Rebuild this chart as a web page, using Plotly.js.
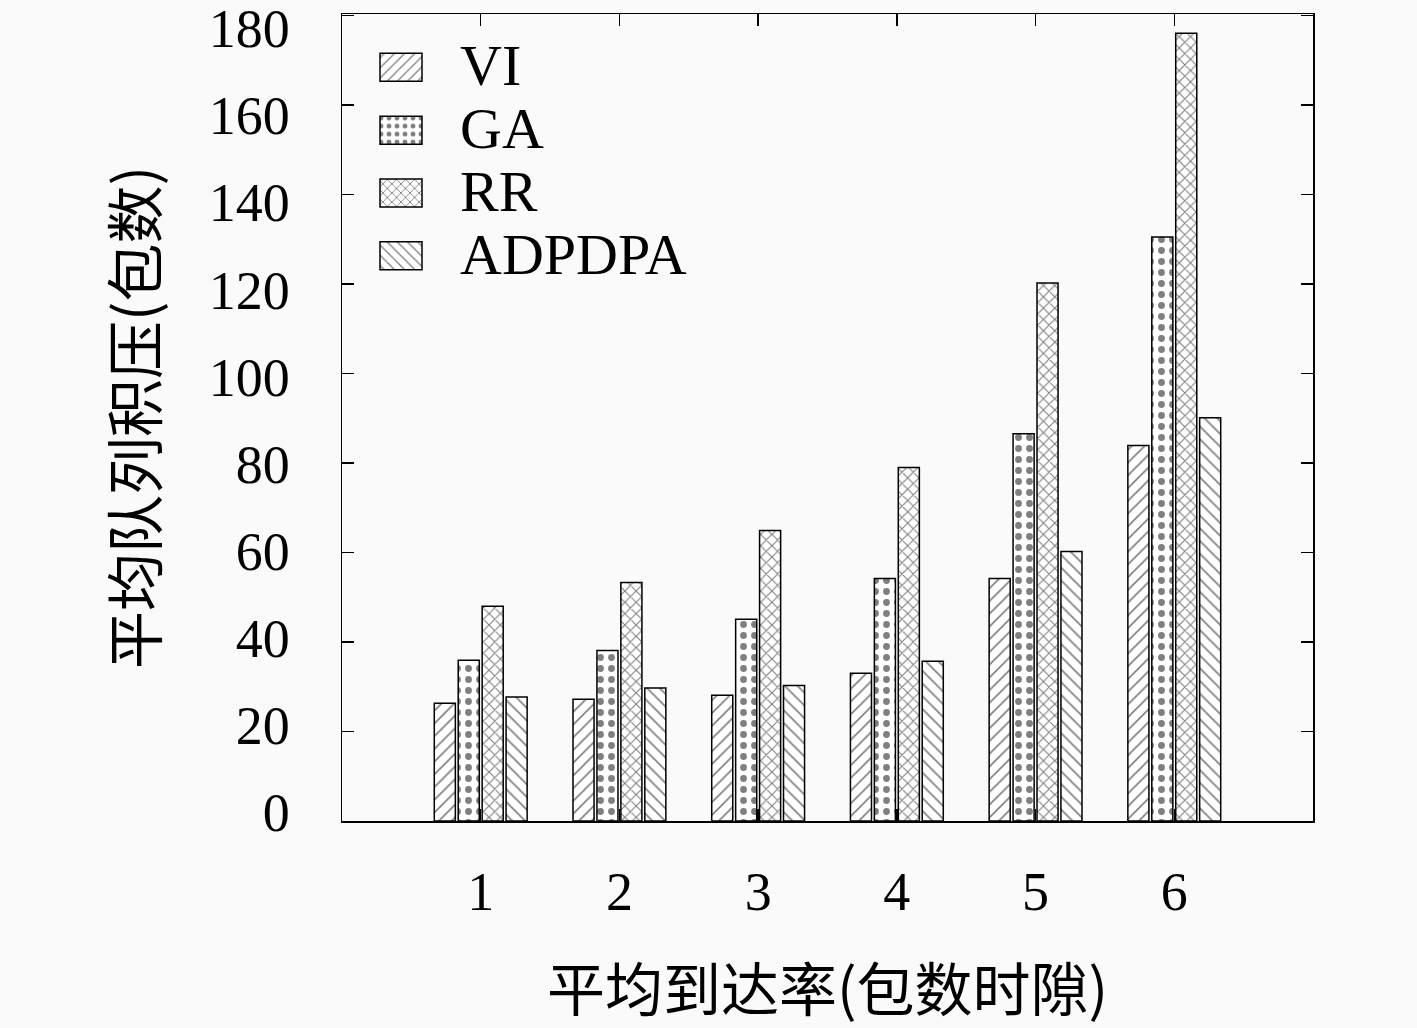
<!DOCTYPE html>
<html>
<head>
<meta charset="utf-8">
<script src="https://cdn.plot.ly/plotly-3.0.1.min.js"></script>
<style>
  html, body { margin: 0; padding: 0; background: #fafafa; }
  #chart { width: 1417px; height: 1028px; }
</style>
</head>
<body>
<div id="chart"></div>
<script>
/* global Plotly */
const CATEGORIES = [1, 2, 3, 4, 5, 6];
const SERIES_NAMES = ['VI', 'GA', 'RR', 'ADPDPA'];
const VI = [26.3, 27.2, 28.1, 33.0, 54.2, 83.9];
const GA = [35.9, 38.1, 45.1, 54.2, 86.5, 130.5];
const RR = [48.0, 53.3, 64.9, 79.0, 120.2, 176.0];
const ADPDPA = [27.7, 29.7, 30.3, 35.7, 60.2, 90.1];
const Y_TICKS = [0, 20, 40, 60, 80, 100, 120, 140, 160, 180];

const SERIF = '"Liberation Serif", "DejaVu Serif", serif';
const CJK = '"Noto Sans CJK SC", sans-serif';

const PATTERNS = [
  { shape: '/', size: 9, solidity: 0.18 },
  { shape: '.', size: 11, solidity: 0.3 },
  { shape: 'x', size: 8, solidity: 0.26 },
  { shape: '\\', size: 9, solidity: 0.18 }
];

const values = [VI, GA, RR, ADPDPA];
const traces = SERIES_NAMES.map(function (name, i) {
  return {
    type: 'bar',
    name: name,
    x: CATEGORIES,
    y: values[i],
    marker: {
      color: '#ffffff',
      line: { color: '#000000', width: 1.5 },
      pattern: {
        shape: PATTERNS[i].shape,
        size: PATTERNS[i].size,
        solidity: PATTERNS[i].solidity,
        fgcolor: '#000000',
        bgcolor: '#ffffff',
        fillmode: 'overlay'
      }
    }
  };
});

const axisCommon = {
  showgrid: false,
  zeroline: false,
  showline: true,
  linecolor: '#000000',
  linewidth: 1.5,
  mirror: 'ticks',
  ticks: 'inside',
  ticklen: 12,
  tickwidth: 1.5,
  tickcolor: '#000000',
  ticklabeloverflow: 'allow',
  tickfont: { family: SERIF, size: 54, color: '#000000' }
};

const layout = {
  width: 1417,
  height: 1028,
  paper_bgcolor: '#fafafa',
  plot_bgcolor: '#fafafa',
  margin: { l: 342, r: 104, t: 14, b: 207 },
  barmode: 'group',
  bargap: 0.31,
  bargroupgap: 0.12,
  showlegend: true,
  legend: {
    x: 0,
    y: 0.979,
    xanchor: 'left',
    yanchor: 'top',
    bgcolor: 'rgba(0,0,0,0)',
    font: { family: SERIF, size: 46, color: '#000000' },
    tracegroupgap: 0,
    itemwidth: 108
  },
  xaxis: Object.assign({}, axisCommon, {
    range: [0, 7],
    tickvals: CATEGORIES,
    ticktext: CATEGORIES.map(String),
    ticklabelstandoff: 23,
    title: {
      text: '平均到达率(包数时隙)',
      font: { family: CJK, size: 58, color: '#000000' },
      standoff: 52
    }
  }),
  yaxis: Object.assign({}, axisCommon, {
    range: [0, 180.3],
    tickvals: Y_TICKS,
    ticktext: Y_TICKS.map(String),
    ticklabelstandoff: 40,
    title: {
      text: '平均队列积压(包数)',
      font: { family: CJK, size: 58, color: '#000000' },
      standoff: 32
    }
  })
};

Plotly.newPlot('chart', traces, layout, { displayModeBar: false, staticPlot: true }).then(function () {
  // wider swatches and larger names, as in the original key
  document.querySelectorAll('.legend .legendpoints path').forEach(function (p) {
    p.setAttribute('d', 'M21,14H-21V-14H21Z');
    p.style.strokeWidth = '1.5px';
    p.style.stroke = '#000000';
  });
  document.querySelectorAll('.legend .legendtext').forEach(function (t) {
    t.style.fontSize = '58px';
  });
  document.querySelectorAll('.legend, .legend *').forEach(function (el) {
    el.removeAttribute('clip-path');
  });
  // the original's y labels sit a little closer together than its ticks
  document.querySelectorAll('.yaxislayer-above .ytick text').forEach(function (t) {
    const v = parseFloat(t.textContent);
    const shift = -9 + (v / 180) * 22;
    const tr = t.getAttribute('transform') || '';
    t.setAttribute('transform', tr + ' translate(0,' + shift.toFixed(1) + ')');
  });
});
</script>
</body>
</html>
